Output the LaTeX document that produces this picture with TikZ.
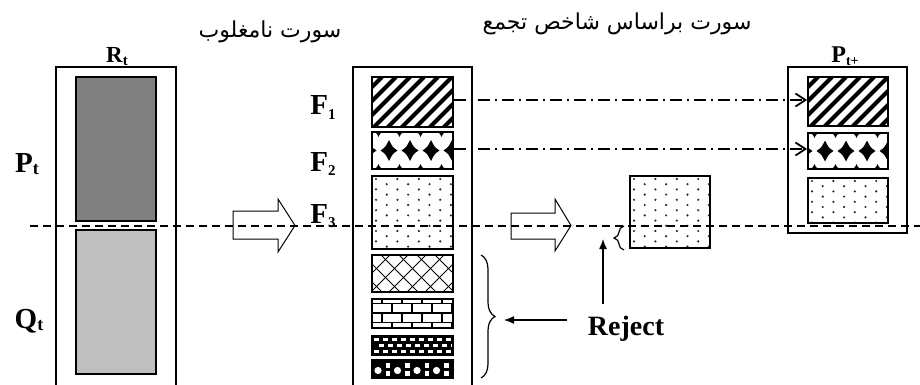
\documentclass[tikz,border=0pt]{standalone}
\usepackage{fontspec}
\setmainfont{Liberation Serif}
\newfontfamily\arabicfont[Script=Arabic]{DejaVu Sans}
\TeXXeTstate=1
\usetikzlibrary{arrows.meta,decorations.pathreplacing,calc}
\newcommand\lsub[3]{\raisebox{-#1}{\fontsize{#2}{#2}\selectfont #3}}
\tikzset{
 outer/.style={draw, line width=1.3pt, inner sep=0pt},
 cell/.style={draw, line width=1.8pt, inner sep=0pt},
 lbl/.style={inner sep=0pt, anchor=base},
 ddash/.style={line width=1.4pt, dash pattern=on 12pt off 5pt on 2pt off 5pt, -{Straight Barb[length=10pt,width=13pt,line width=1.8pt]}},
 hline/.style={line width=1.5pt, dash pattern=on 8pt off 5pt},
 fatarrow/.style={draw, line width=1pt, fill=white},
 thinarrow/.style={line width=1.3pt, -{Latex[length=10pt,width=8pt]}},
 brc/.style={line width=1.2pt, decorate},
 arab/.style={font=\arabicfont\fontsize{22}{26}\selectfont, inner sep=0pt},
}
% pattern macros: x0, y0 (top left), w, h
\newcommand\patStripes[4]{\begin{scope}\clip (#1,#2) rectangle ++(#3,#4);
  \foreach \i in {-98,-84,...,100} \draw[line width=4.2pt] (#1+\i,#2+80) -- ++(80,-80);
  \end{scope}}
\newcommand\starA{(8.5,0) .. controls (3.5,3.5) .. (0,10.5) .. controls (-3.5,3.5) .. (-8.5,0) .. controls (-3.5,-3.5) .. (0,-10.5) .. controls (3.5,-3.5) .. (8.5,0) -- cycle}
\newcommand\starB{(4.5,0) .. controls (1.5,1.5) .. (0,5) .. controls (-1.5,1.5) .. (-4.5,0) .. controls (-1.5,-1.5) .. (0,-5) .. controls (1.5,-1.5) .. (4.5,0) -- cycle}
\newcommand\patDiam[4]{\begin{scope}\clip (#1,#2) rectangle ++(#3,#4);
  \foreach \x in {-4,17,38,59,80} {\begin{scope}[shift={(#1+\x,#2+#4/2)}]\fill \starA;\end{scope}}
  \foreach \x in {6.5,27.5,48.5,69.5} {\begin{scope}[shift={(#1+\x,#2)}]\fill \starB;\end{scope}
     \begin{scope}[shift={(#1+\x,#2+#4)}]\fill \starB;\end{scope}}
  \end{scope}}
\newcommand\patDots[4]{\begin{scope}\clip (#1,#2) rectangle ++(#3,#4);
  \foreach \r in {0,...,14} {\pgfmathsetmacro\yy{#2+3+\r*5.2}\pgfmathsetmacro\off{#1+mod(\r,2)*10.7}
     \foreach \k in {0,...,4} \fill[black!85] (\off+4+\k*21.4,\yy) circle (1.2pt);}
  \end{scope}}
\newcommand\patHatch[4]{\begin{scope}\clip (#1,#2) rectangle ++(#3,#4);
  \foreach \i in {-45,-27,...,100} {\draw[line width=0.9pt] (#1+\i,#2) -- ++(45,45); \draw[line width=0.9pt] (#1+\i,#2+45) -- ++(45,-45);}
  \end{scope}}
\newcommand\patBricks[4]{\begin{scope}[line width=1.2pt]\clip (#1,#2) rectangle ++(#3,#4);
  \draw (#1,#2+4.5) -- ++(90,0) (#1,#2+14) -- ++(90,0) (#1,#2+23.5) -- ++(90,0);
  \foreach \x in {10,30,50,70} \draw (#1+\x,#2) -- ++(0,4.5) (#1+\x,#2+14) -- ++(0,9.5);
  \foreach \x in {0,20,40,60,80} \draw (#1+\x,#2+4.5) -- ++(0,9.5) (#1+\x,#2+23.5) -- ++(0,7);
  \end{scope}}
\newcommand\patDense[4]{\begin{scope}\clip (#1,#2) rectangle ++(#3,#4);
  \fill (#1,#2) rectangle ++(#3,#4);
  \foreach \r/\o in {3.5/0, 9.5/4.5, 15.5/0} \foreach \k in {0,...,9} \fill[white] (#1+\o+2+\k*9,#2+\r-1.2) rectangle ++(5,2.4);
  \end{scope}}
\newcommand\patRing[4]{\begin{scope}\clip (#1,#2) rectangle ++(#3,#4);
  \fill (#1,#2) rectangle ++(#3,#4);
  \foreach \k in {0,...,4} {\fill[white] (#1+6+\k*19.5,#2+10.5) circle (3.6pt);
    \fill[white] (#1+13.5+\k*19.5,#2+3) rectangle ++(4.5,4.5);
    \fill[white] (#1+13.5+\k*19.5,#2+11) rectangle ++(4.5,4.5);}
  \end{scope}}
\begin{document}
\begin{tikzpicture}[x=1pt,y=-1pt]
\useasboundingbox (0,0) rectangle (920,385);
% left box
\node[outer, minimum width=120pt, minimum height=323pt] (Rt) at (116,228.5) {};
\node[cell, fill=black!50, minimum width=80pt, minimum height=144pt] (dk) at (116,149) {};
\node[cell, fill=black!25, minimum width=80pt, minimum height=144pt] (lt) at (116,302) {};
\node[lbl, font=\bfseries\fontsize{23}{26}\selectfont] (Rl) at (117,63) {R\lsub{3pt}{15}{t}};
\node[lbl, font=\bfseries\fontsize{29}{32}\selectfont] (Pl) at (27,172) {P\lsub{2pt}{18}{t}};
\node[lbl, font=\bfseries\fontsize{29}{32}\selectfont] (Ql) at (29,328) {Q\lsub{2pt}{18}{t}};
% middle box
\node[outer, minimum width=119pt, minimum height=323pt] (M) at (412.5,228.5) {};
\patStripes{372}{77}{81}{50}
\patDiam{372}{132}{81}{37}
\patDots{372}{176}{81}{73}
\patHatch{372}{255}{81}{37}
\patBricks{372}{299}{81}{29}
\patDense{372}{336}{81}{19}
\patRing{372}{360}{81}{18}
\node[cell, minimum width=81pt, minimum height=50pt] (f1) at (412.5,102) {};
\node[cell, minimum width=81pt, minimum height=37pt] (f2) at (412.5,150.5) {};
\node[cell, minimum width=81pt, minimum height=73pt] (f3) at (412.5,212.5) {};
\node[cell, minimum width=81pt, minimum height=37pt] (g4) at (412.5,273.5) {};
\node[cell, minimum width=81pt, minimum height=29pt] (g5) at (412.5,313.5) {};
\node[cell, minimum width=81pt, minimum height=19pt] (g6) at (412.5,345.5) {};
\node[cell, minimum width=81pt, minimum height=18pt] (g7) at (412.5,369) {};
\node[lbl, font=\bfseries\fontsize{29}{32}\selectfont] (F1) at (323,115) {F\lsub{5pt}{15}{1}};
\node[lbl, font=\bfseries\fontsize{29}{32}\selectfont] (F2) at (323,171.5) {F\lsub{4pt}{15}{2}};
\node[lbl, font=\bfseries\fontsize{29}{32}\selectfont] (F3) at (323,223) {F\lsub{4pt}{15}{3}};
% small box
\patDots{630}{176}{80}{72}
\node[cell, minimum width=80pt, minimum height=72pt] (sb) at (670,212) {};
% right box
\node[outer, minimum width=119pt, minimum height=166pt] (P) at (847.5,150) {};
\patStripes{808}{77}{80}{49}
\patDiam{808}{133}{80}{36}
\patDots{808}{178}{80}{45}
\node[cell, minimum width=80pt, minimum height=49pt] (p1) at (848,101.5) {};
\node[cell, minimum width=80pt, minimum height=36pt] (p2) at (848,151) {};
\node[cell, minimum width=80pt, minimum height=45pt] (p3) at (848,200.5) {};
\node[lbl, font=\bfseries\fontsize{24}{26}\selectfont] (Pp) at (845,63) {P\lsub{3pt}{14}{t+}};
% arabic titles
\node[arab] (ar1) at (270,32) {\beginR سورت نامغلوب\endR};
\node[arab] (ar2) at (617,24) {\beginR سورت براساس شاخص تجمع\endR};
% dash-dot arrows
\draw[ddash] ([yshift=2pt]f1.east) -- ([yshift=2pt]f1.east -| p1.west);
\draw[ddash] ([yshift=1.5pt]f2.east) -- ([yshift=1.5pt]f2.east -| p2.west);
% fat arrows
\draw[fatarrow] (233,211) -- (278,211) -- (278,199) -- (295,225.5) -- (278,252) -- (278,239) -- (233,239) -- cycle;
\draw[fatarrow] (511,213) -- (555,213) -- (555,199) -- (571,225.5) -- (555,251) -- (555,239) -- (511,239) -- cycle;
% braces
\coordinate (b1a) at (481,255); \coordinate (b1b) at (481,378);
\draw[brc, decoration={brace, amplitude=14pt}] (b1a) -- (b1b);
\coordinate (b2a) at (624,250); \coordinate (b2b) at (624,226);
\draw[brc, decoration={brace, amplitude=10pt}] (b2a) -- (b2b);
% reject
\node[lbl, font=\bfseries\fontsize{28}{30}\selectfont] (rej) at (626,335) {Reject};
\coordinate (rejL) at (567,320); \coordinate (bt1) at (504,320);
\draw[thinarrow] (rejL) -- (bt1);
\coordinate (rejU) at (603,304); \coordinate (bt2) at (603,239);
\draw[thinarrow] (rejU) -- (bt2);
% dashed separator
\coordinate (dl) at (30,226); \coordinate (dr) at (920,226);
\draw[hline] (dl) -- (dr);
\end{tikzpicture}
\end{document}
